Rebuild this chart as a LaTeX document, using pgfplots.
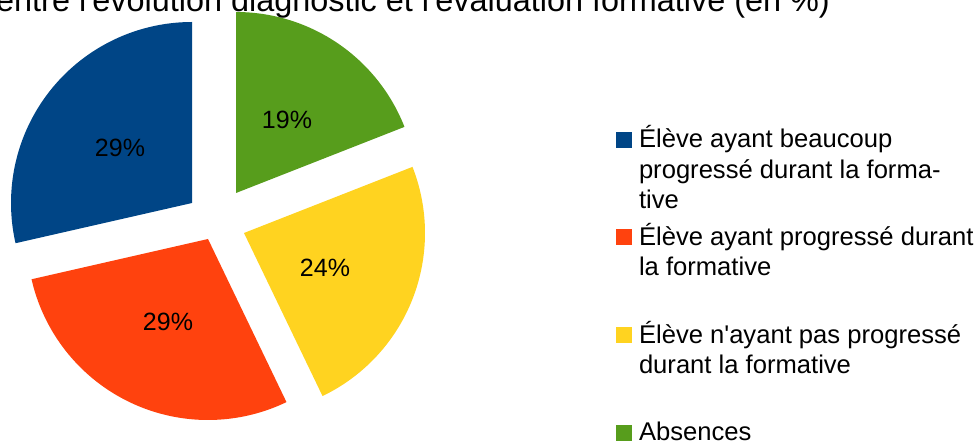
\documentclass[border=0pt]{standalone}
\usepackage{fontspec}
\setmainfont{Liberation Sans}[Ligatures=TeXOff]
\usepackage{pgfplots}
\pgfplotsset{compat=1.18}
\definecolor{cblue}{HTML}{004586}
\definecolor{cred}{HTML}{FF420E}
\definecolor{cyellow}{HTML}{FFD320}
\definecolor{cgreen}{HTML}{579D1C}
% counts of pupils (21 in total)
\def\vBlue{6}
\def\vRed{6}
\def\vYellow{5}
\def\vGreen{4}
\def\vTotal{21}
\pgfmathsetmacro{\aA}{90}
\pgfmathsetmacro{\aB}{\aA+360*\vBlue/\vTotal}
\pgfmathsetmacro{\aC}{\aB+360*\vRed/\vTotal}
\pgfmathsetmacro{\aD}{\aC+360*\vYellow/\vTotal}
\pgfmathsetmacro{\aE}{\aD+360*\vGreen/\vTotal}
\begin{document}
\begin{tikzpicture}
\useasboundingbox (0,0) rectangle (979pt,444pt);
\begin{axis}[
  x=1pt, y=1pt, xmin=0, xmax=979, ymin=0, ymax=444,
  scale only axis, hide axis, clip=false,
  at={(0,0)}, anchor=south west,
  legend image code/.code={\fill[#1] (0pt,0pt) rectangle (16pt,16pt);},
  legend style={draw=none, fill=none, at={(axis cs:616,326.3)}, anchor=north west,
    inner sep=0pt, outer sep=0pt, row sep=0pt, column sep=7pt,
    font=\fontsize{25.6}{30.5}\selectfont,
    cells={anchor=base west},
    nodes={inner sep=0pt, outer sep=0pt, text depth=}},
]
\addplot[fill=cblue, draw=none, domain=\aA:\aB, samples=90] ({192+181*cos(x)}, {241+181*sin(x)}) -- (axis cs:192,241) -- cycle;
\addlegendentry{\parbox[t][97.7pt][t]{345pt}{\rule{0pt}{30pt}Élève ayant beaucoup\\progressé durant la forma-\\tive}}
\addplot[fill=cred, draw=none, domain=\aB:\aC, samples=90] ({208+181*cos(x)}, {205+181*sin(x)}) -- (axis cs:208,205) -- cycle;
\addlegendentry{\parbox[t][97.7pt][t]{345pt}{\rule{0pt}{30pt}Élève ayant progressé durant\\la formative}}
\addplot[fill=cyellow, draw=none, domain=\aC:\aD, samples=90] ({244+181*cos(x)}, {211+181*sin(x)}) -- (axis cs:244,211) -- cycle;
\addlegendentry{\parbox[t][97.7pt][t]{345pt}{\rule{0pt}{30pt}Élève n'ayant pas progressé\\durant la formative}}
\addplot[fill=cgreen, draw=none, domain=\aD:\aE, samples=90] ({236+181*cos(x)}, {251+181*sin(x)}) -- (axis cs:236,251) -- cycle;
\addlegendentry{\parbox[t][40pt][t]{345pt}{\rule{0pt}{30pt}Absences}}
\node[font=\fontsize{25}{30}\selectfont, inner sep=0pt] at (axis cs:120,296.5) {29\%};
\node[font=\fontsize{25}{30}\selectfont, inner sep=0pt] at (axis cs:168,122) {29\%};
\node[font=\fontsize{25}{30}\selectfont, inner sep=0pt] at (axis cs:325,176) {24\%};
\node[font=\fontsize{25}{30}\selectfont, inner sep=0pt] at (axis cs:287,324) {19\%};
\node[anchor=base west, inner sep=0pt, font=\fontsize{32.4}{38}\selectfont] at (axis cs:-4,432) {entre l'évolution diagnostic et l'évaluation formative (en \%)};
\end{axis}
\end{tikzpicture}
\end{document}
